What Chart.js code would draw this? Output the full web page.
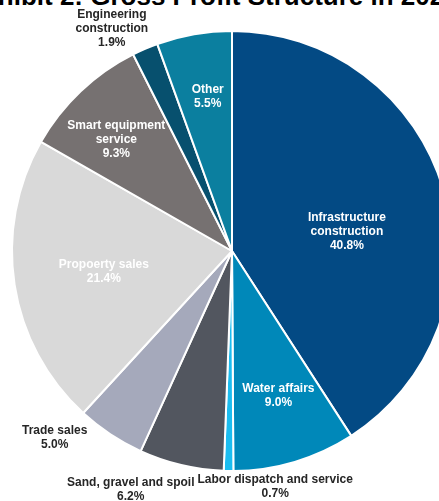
<!DOCTYPE html>
<html>
<head>
<meta charset="utf-8">
<script src="https://cdn.jsdelivr.net/npm/chart.js@4"></script>
<style>
  html, body { margin: 0; padding: 0; background: #fff; overflow: hidden; }
  body { width: 439px; height: 501px; position: relative; }
  #title {
    position: absolute; left: -34px; top: -17px; white-space: nowrap;
    font: bold 26px "Liberation Sans", Arial, sans-serif; line-height: 26px; color: #000;
  }
  #pie { position: absolute; left: 0; top: 0; }
</style>
</head>
<body>
<div id="title">Exhibit 2: Gross Profit Structure in 2022</div>
<canvas id="pie" width="464" height="501"></canvas>
<script>
const categories = [
  ['Infrastructure', 'construction'],
  ['Water affairs'],
  ['Labor dispatch and service'],
  ['Sand, gravel and spoil'],
  ['Trade sales'],
  ['Propoerty sales'],
  ['Smart equipment', 'service'],
  ['Engineering', 'construction'],
  ['Other']
];
const shares = [40.8, 9.0, 0.7, 6.2, 5.0, 21.4, 9.3, 1.9, 5.5];
const sliceColors = ['#034a84', '#0088b9', '#1bbdf0', '#52565f', '#a5a9bb', '#d9d9d9', '#767171', '#07506e', '#0b7f9f'];

// where each label sits: fraction of radius, turn from slice middle (deg), inside or not
const labelRadius = [0.53, 0.69, 1.087, 1.18, 1.17, 0.59, 0.73, 1.15, 0.71];
const labelTurn = [6.7, -1.2, -11.3, 9.6, 10, -0.4, -2.6, -5.1, 1];
const labelInside = [true, true, false, false, false, true, true, false, true];

const sliceLabels = {
  id: 'sliceLabels',
  afterDatasetsDraw(chart) {
    const ctx = chart.ctx;
    const arcs = chart.getDatasetMeta(0).data;
    ctx.save();
    ctx.font = 'bold 12px "Liberation Sans", Arial, sans-serif';
    ctx.textAlign = 'center';
    ctx.textBaseline = 'middle';
    arcs.forEach((arc, i) => {
      const mid = (arc.startAngle + arc.endAngle) / 2 + labelTurn[i] * Math.PI / 180;
      const r = arc.outerRadius * labelRadius[i];
      const x = arc.x + Math.cos(mid) * r;
      const y = arc.y + Math.sin(mid) * r;
      const lines = categories[i].concat([shares[i].toFixed(1) + '%']);
      ctx.fillStyle = labelInside[i] ? '#ffffff' : '#262626';
      const h = 14;
      lines.forEach((t, k) => {
        ctx.fillText(t, x, y + (k - (lines.length - 1) / 2) * h);
      });
    });
    ctx.restore();
  }
};

new Chart(document.getElementById('pie').getContext('2d'), {
  type: 'pie',
  data: {
    labels: categories.map(c => c.join(' ')),
    datasets: [{
      data: shares,
      backgroundColor: sliceColors,
      borderColor: '#ffffff',
      borderWidth: 2
    }]
  },
  options: {
    responsive: false,
    animation: false,
    layout: { padding: { top: 30, bottom: 29, left: 11, right: 11 } },
    plugins: {
      legend: { display: false },
      tooltip: { enabled: false }
    }
  },
  plugins: [sliceLabels]
});
</script>
</body>
</html>
